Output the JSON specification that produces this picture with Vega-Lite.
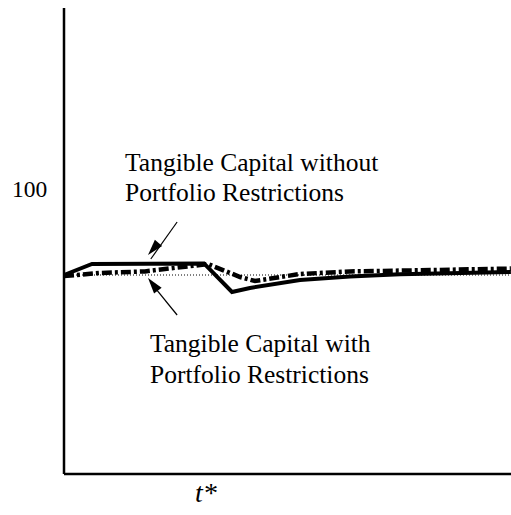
{
  "$schema": "https://vega.github.io/schema/vega-lite/v6.json",
  "width": 511,
  "height": 515,
  "autosize": {"type": "fit", "contains": "padding"},
  "padding": 0,
  "background": "white",
  "config": {"view": {"stroke": null}},
  "datasets": {
    "solid": [
      {"t": 0, "v": 100},
      {"t": 1, "v": 102.75},
      {"t": 5, "v": 102.9},
      {"t": 6, "v": 95.75},
      {"t": 6.64, "v": 96.75},
      {"t": 8.43, "v": 98.75},
      {"t": 10.21, "v": 99.6},
      {"t": 12, "v": 100.2},
      {"t": 15.96, "v": 100.75}
    ],
    "dashdot": [
      {"t": 0, "v": 99.75},
      {"t": 1.29, "v": 100.5},
      {"t": 2.89, "v": 100.9},
      {"t": 3.6, "v": 101.5},
      {"t": 4.86, "v": 102.5},
      {"t": 5.14, "v": 102.75},
      {"t": 6.29, "v": 99.5},
      {"t": 6.82, "v": 98.5},
      {"t": 8.43, "v": 100.25},
      {"t": 10.21, "v": 100.9},
      {"t": 12, "v": 101.1},
      {"t": 15.96, "v": 101.6}
    ],
    "baseline": [{"t": 0, "v": 100}, {"t": 16, "v": 100}],
    "axes": [
      {"t": 0, "v": 50.25, "t2": 0, "v2": 166.75},
      {"t": 0, "v": 50.25, "t2": 16, "v2": 50.25}
    ],
    "shafts": [
      {"t": 4.04, "v": 113.25, "t2": 3.1, "v2": 104},
      {"t": 4.04, "v": 90, "t2": 3.1, "v2": 98.1}
    ],
    "heads": [
      {"t": 3.0, "v": 105, "angle": 221},
      {"t": 3.0, "v": 99.25, "angle": 322}
    ],
    "labels": [
      {"t": 2.18, "v": 126, "label": "Tangible Capital without"},
      {"t": 2.18, "v": 118.5, "label": "Portfolio Restrictions"},
      {"t": 3.07, "v": 80.75, "label": "Tangible Capital with"},
      {"t": 3.07, "v": 73, "label": "Portfolio Restrictions"}
    ],
    "ylabel": [{"t": -1.857, "v": 119.5, "label": "100"}],
    "tick": [{"t": 4.68, "v": 43.25, "label": "t*"}]
  },
  "encoding": {
    "x": {"field": "t", "type": "quantitative", "scale": {"domain": [-2.2857, 15.964], "nice": false, "zero": false}, "axis": null},
    "y": {"field": "v", "type": "quantitative", "scale": {"domain": [40, 168.75], "nice": false, "zero": false}, "axis": null}
  },
  "layer": [
    {
      "data": {"name": "baseline"},
      "mark": {"type": "line", "color": "black", "strokeWidth": 1, "strokeDash": [1, 2], "clip": true}
    },
    {
      "data": {"name": "axes"},
      "mark": {"type": "rule", "color": "black", "strokeWidth": 2.5, "clip": true},
      "encoding": {"x2": {"field": "t2"}, "y2": {"field": "v2"}}
    },
    {
      "data": {"name": "dashdot"},
      "mark": {"type": "line", "color": "black", "strokeWidth": 4.5, "strokeDash": [10, 3, 3, 3], "clip": true}
    },
    {
      "data": {"name": "solid"},
      "mark": {"type": "line", "color": "black", "strokeWidth": 4, "clip": true}
    },
    {
      "data": {"name": "shafts"},
      "mark": {"type": "rule", "color": "black", "strokeWidth": 1.2},
      "encoding": {"x2": {"field": "t2"}, "y2": {"field": "v2"}}
    },
    {
      "data": {"name": "heads"},
      "mark": {"type": "point", "shape": "M0,0L0.6,2L-0.6,2Z", "filled": true, "color": "black", "size": 256, "opacity": 1},
      "encoding": {"angle": {"field": "angle", "type": "quantitative", "scale": null}}
    },
    {
      "data": {"name": "labels"},
      "mark": {"type": "text", "align": "left", "baseline": "alphabetic", "font": "'Liberation Serif', 'DejaVu Serif', 'Times New Roman', serif", "fontSize": 25.5, "color": "black"},
      "encoding": {"text": {"field": "label"}}
    },
    {
      "data": {"name": "ylabel"},
      "mark": {"type": "text", "align": "left", "baseline": "alphabetic", "font": "'Liberation Serif', 'DejaVu Serif', 'Times New Roman', serif", "fontSize": 23.5, "color": "black"},
      "encoding": {"text": {"field": "label"}}
    },
    {
      "data": {"name": "tick"},
      "mark": {"type": "text", "align": "left", "baseline": "alphabetic", "font": "'Liberation Serif', 'DejaVu Serif', 'Times New Roman', serif", "fontSize": 28, "fontStyle": "italic", "color": "black"},
      "encoding": {"text": {"field": "label"}}
    }
  ]
}
